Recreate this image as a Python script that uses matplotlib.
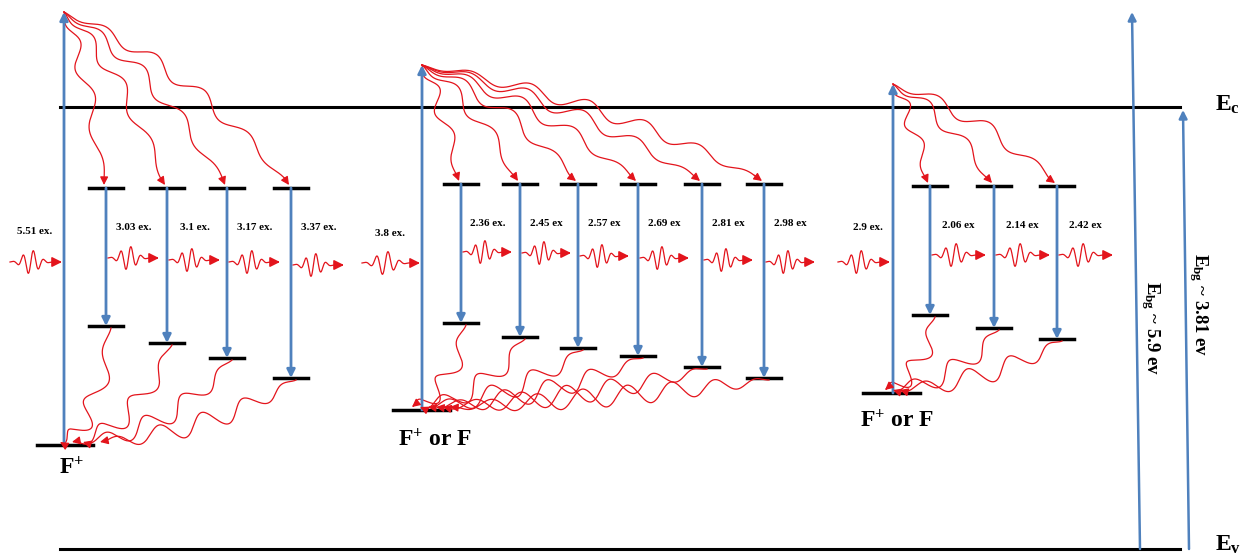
import numpy as np
import matplotlib.pyplot as plt

plt.rcParams['font.family'] = ['Liberation Serif', 'DejaVu Serif']
plt.rcParams['mathtext.fontset'] = 'custom'
plt.rcParams['mathtext.rm'] = 'Liberation Serif'
plt.rcParams['mathtext.bf'] = 'Liberation Serif:bold'
plt.rcParams['mathtext.it'] = 'Liberation Serif:italic'

# band edges (pixel-like diagram units, y grows downward)
ec_y = 107
ev_y = 549

# group data: excitation energy, apex of excitation, defect ground level,
# upper/lower levels, emission energies
exc_labels = ['5.51 ex.', '3.8 ex.', '2.9 ex.']
exc_x = [64, 422, 893]
exc_top = [12, 65, 84]
ground_y = [445, 410, 393]
ground_span = [(37, 93), (393, 450), (863, 920)]
ground_labels = [r'$\mathbf{F^{+}}$', r'$\mathbf{F^{+}\ or\ F}$', r'$\mathbf{F^{+}\ or\ F}$']
ground_label_xy = [(72, 468), (435, 440), (897, 421)]
exc_label_xy = [(35, 232), (390, 233), (868, 228)]
exc_wave = [(10, 62, 262), (362, 420, 263), (838, 890, 262)]

level_x = [[106, 167, 227, 291],
           [461, 520, 578, 638, 702, 764],
           [930, 994, 1057]]
upper_y = [188, 184, 186]
lower_y = [[326, 343, 358, 378],
           [323, 337, 348, 356, 367, 378],
           [315, 328, 339]]
em_labels = [['3.03 ex.', '3.1 ex.', '3.17 ex.', '3.37 ex.'],
             ['2.36 ex.', '2.45 ex', '2.57 ex', '2.69 ex', '2.81 ex', '2.98 ex'],
             ['2.06 ex', '2.14 ex', '2.42 ex']]
em_wave_y = [[258, 260, 262, 265],
             [252, 253, 256, 258, 260, 262],
             [255, 255, 255]]
relax_end_x = [[60, 72, 83, 100],
               [412, 420, 428, 436, 443, 450],
               [885, 893, 900]]

blue = '#4f81bd'
red = '#e3141c'

fig = plt.figure(figsize=(12.48, 5.57), dpi=100)
ax = fig.add_axes([0, 0, 1, 1])
ax.set_xlim(0, 1248)
ax.set_ylim(557, 0)
ax.axis('off')


def arrow(ax, p0, p1, color, lw, ms):
    ax.annotate('', xy=p1, xytext=p0,
                arrowprops=dict(arrowstyle='-|>', color=color, lw=lw,
                                mutation_scale=ms, shrinkA=0, shrinkB=0))


def wiggly(ax, p0, p1, c, waves, amp):
    t = np.linspace(0, 1, 400)
    p0, p1, c = np.array(p0, float), np.array(p1, float), np.array(c, float)
    pts = ((1 - t) ** 2)[:, None] * p0 + (2 * (1 - t) * t)[:, None] * c + (t ** 2)[:, None] * p1
    d = (2 * (1 - t))[:, None] * (c - p0) + (2 * t)[:, None] * (p1 - c)
    d /= np.linalg.norm(d, axis=1)[:, None]
    nrm = np.column_stack([-d[:, 1], d[:, 0]])
    off = amp * np.sin(2 * np.pi * waves * t) * np.sin(np.pi * t) ** 0.6
    pts = pts + nrm * off[:, None]
    ax.plot(pts[:-8, 0], pts[:-8, 1], color=red, lw=0.9)
    arrow(ax, pts[-12], pts[-1], red, 0.9, 12)


def photon(ax, x0, x1, y):
    t = np.linspace(0, 1, 300)
    x = x0 + (x1 - x0) * t
    env = np.exp(-((t - 0.4) / 0.2) ** 2)
    yy = y - 12 * env * np.sin(2 * np.pi * 5.0 * (t - 0.4))
    ax.plot(x[:-10], yy[:-10], color=red, lw=0.9)
    arrow(ax, (x[-30], y), (x1, y), red, 1.1, 15)


# band edges
ax.plot([60, 1180], [ec_y, ec_y], color='black', lw=2.2)
ax.plot([60, 1180], [ev_y, ev_y], color='black', lw=2.2)
ax.text(1215, ec_y - 2, r'$\mathbf{E_c}$', fontsize=17, va='center')
ax.text(1215, ev_y - 4, r'$\mathbf{E_v}$', fontsize=17, va='center')

for g in range(3):
    xe = exc_x[g]
    # ground defect level
    ax.plot(ground_span[g], [ground_y[g]] * 2, color='black', lw=2.5)
    ax.text(*ground_label_xy[g], ground_labels[g], fontsize=17,
            ha='center', va='center')
    # excitation
    arrow(ax, (xe, ground_y[g]), (xe, exc_top[g]), blue, 2.0, 12)
    ax.text(*exc_label_xy[g], exc_labels[g], fontsize=8, fontweight='bold',
            ha='center', va='center')
    photon(ax, exc_wave[g][0], exc_wave[g][1], exc_wave[g][2])
    n = len(level_x[g])
    step = level_x[g][1] - level_x[g][0]
    for i in range(n):
        lx = level_x[g][i]
        ly = lower_y[g][i]
        uy = upper_y[g]
        ax.plot([lx - 17, lx + 17], [uy, uy], color='black', lw=2.5)
        ax.plot([lx - 17, lx + 17], [ly, ly], color='black', lw=2.5)
        arrow(ax, (lx, uy), (lx, ly), blue, 2.0, 12)
        ax.text(lx + step * 0.45, upper_y[g] + 40, em_labels[g][i], fontsize=8,
                fontweight='bold', ha='center', va='center')
        photon(ax, lx + 2, lx + step - 8, em_wave_y[g][i])
        # thermal relaxation from excitation apex down to upper level
        p0 = (xe, exc_top[g])
        p1 = (lx - 2, uy - 3)
        dx, dy = p1[0] - p0[0], p1[1] - p0[1]
        c = (p0[0] + 0.55 * dx, p0[1] + 0.3 * dy)
        L = np.hypot(dx, dy)
        wiggly(ax, p0, p1, c, max(2.5, L / 60), 7)
        # non-radiative decay from lower level to ground defect level
        q0 = (lx + 5, ly + 2)
        q1 = (relax_end_x[g][i], ground_y[g] - 3)
        c2 = (0.5 * (q0[0] + q1[0]) + 10, q1[1] - 8)
        L2 = np.hypot(q1[0] - q0[0], q1[1] - q0[1])
        wiggly(ax, q0, q1, c2, max(2.5, L2 / 45), 10)

# band gap arrows
arrow(ax, (1140, ev_y), (1132, 12), blue, 1.8, 12)
arrow(ax, (1189, ev_y), (1183, 110), blue, 1.8, 12)
ax.text(1150, 328, r'$\mathbf{E_{bg}}$ ~ 5.9 ev', rotation=270, fontsize=13.5,
        fontweight='bold', ha='center', va='center')
ax.text(1198, 305, r'$\mathbf{E_{bg}}$ ~ 3.81 ev', rotation=270, fontsize=13.5,
        fontweight='bold', ha='center', va='center')

fig.savefig('out.png', dpi=100)
